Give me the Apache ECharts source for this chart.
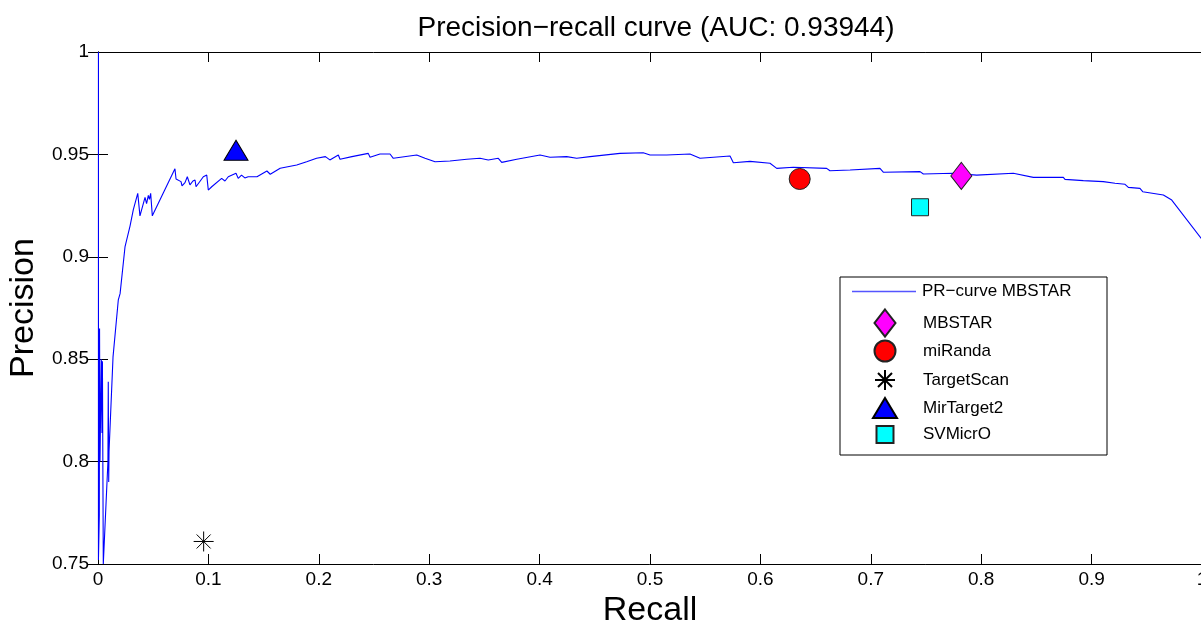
<!DOCTYPE html>
<html>
<head>
<meta charset="utf-8">
<script src="https://cdn.jsdelivr.net/npm/echarts@6/dist/echarts.min.js"></script>
<style>
  html, body { margin: 0; padding: 0; background: #fff; }
  #chart { width: 1201px; height: 621px; }
</style>
</head>
<body>
<div id="chart"></div>
<script>
// PR curve of MBSTAR
const recall = [
  0.0004, 0.0004, 0.0012, 0.0014, 0.0018, 0.0030, 0.0036, 0.0040, 0.0048, 0.0090,
  0.0093, 0.0097, 0.0100, 0.0136, 0.0184, 0.0200, 0.0245, 0.0290, 0.0320, 0.0360,
  0.0380, 0.0426, 0.0440, 0.0456, 0.0466, 0.0477, 0.0492, 0.0697, 0.0707, 0.0752,
  0.0761, 0.0788, 0.0809, 0.0833, 0.0860, 0.0879, 0.0888, 0.0954, 0.0985, 0.0999,
  0.1030, 0.1120, 0.1150, 0.1180, 0.1250, 0.1270, 0.1300, 0.1330, 0.1360, 0.1440,
  0.1530, 0.1560, 0.1650, 0.1800, 0.1890, 0.1980, 0.2060, 0.2100, 0.2177, 0.2192,
  0.2300, 0.2448, 0.2464, 0.2554, 0.2645, 0.2675, 0.2887, 0.2962, 0.3053, 0.3188,
  0.3340, 0.3460, 0.3535, 0.3626, 0.3657, 0.3793, 0.4004, 0.4094, 0.4245, 0.4336,
  0.4457, 0.4728, 0.4939, 0.5000, 0.5151, 0.5362, 0.5453, 0.5725, 0.5755, 0.5906,
  0.6087, 0.6148, 0.6298, 0.6600, 0.6630, 0.6812, 0.7083, 0.7113, 0.7446, 0.7476,
  0.7747, 0.7959, 0.8291, 0.8472, 0.8744, 0.8759, 0.8925, 0.9106, 0.9212, 0.9303,
  0.9333, 0.9438, 0.9463, 0.9650, 0.9726, 1.0000
];
const precision = [
  1.0000, 0.7520, 0.7740, 0.8650, 0.8000, 0.8500, 0.8140, 0.8490, 0.7500, 0.8000,
  0.8390, 0.7900, 0.8050, 0.8510, 0.8790, 0.8820, 0.9050, 0.9150, 0.9230, 0.9310,
  0.9200, 0.9290, 0.9260, 0.9300, 0.9280, 0.9310, 0.9200, 0.9430, 0.9380, 0.9367,
  0.9346, 0.9362, 0.9391, 0.9351, 0.9370, 0.9375, 0.9342, 0.9391, 0.9399, 0.9326,
  0.9342, 0.9383, 0.9370, 0.9391, 0.9408, 0.9383, 0.9399, 0.9385, 0.9391, 0.9391,
  0.9419, 0.9403, 0.9432, 0.9448, 0.9464, 0.9481, 0.9489, 0.9473, 0.9497, 0.9476,
  0.9489, 0.9505, 0.9486, 0.9502, 0.9502, 0.9481, 0.9497, 0.9481, 0.9464, 0.9468,
  0.9476, 0.9481, 0.9473, 0.9481, 0.9461, 0.9476, 0.9497, 0.9486, 0.9489, 0.9481,
  0.9489, 0.9505, 0.9508, 0.9497, 0.9497, 0.9502, 0.9481, 0.9492, 0.9459, 0.9466,
  0.9457, 0.9432, 0.9437, 0.9432, 0.9420, 0.9424, 0.9432, 0.9413, 0.9416, 0.9404,
  0.9408, 0.9399, 0.9408, 0.9388, 0.9388, 0.9378, 0.9372, 0.9367, 0.9359, 0.9354,
  0.9339, 0.9334, 0.9318, 0.9302, 0.9277, 0.9085
];

// other predictors, one point each: [recall, precision]
const tools = ['MBSTAR', 'miRanda', 'TargetScan', 'MirTarget2', 'SVMicrO'];
const toolPoints = [
  [0.782, 0.9395],
  [0.6356, 0.938],
  [0.0957, 0.761],
  [0.125, 0.952],
  [0.7446, 0.9242]
];
const curveName = 'PR\u2212curve MBSTAR';

const FONT = '"Liberation Sans", Arial, Helvetica, sans-serif';
const starPath = 'path://M0,-10L0,10M-10,0L10,0M-7,-7L7,7M-7,7L7,-7';

const markerStyles = {
  MBSTAR: { symbol: 'diamond', size: [21, 27], color: '#ff00ff', border: '#222' },
  miRanda: { symbol: 'circle', size: [21, 21], color: '#ff0000', border: '#222' },
  TargetScan: { symbol: starPath, size: [20, 20], color: 'rgba(0,0,0,0)', border: '#000' },
  MirTarget2: { symbol: 'triangle', size: [24, 20], color: '#0000ff', border: '#000' },
  SVMicrO: { symbol: 'rect', size: [17, 17], color: '#00ffff', border: '#222' }
};

const chart = echarts.init(document.getElementById('chart'), null, { renderer: 'canvas' });

const axisLine = { show: true, lineStyle: { color: '#000', width: 1 } };
const axisTick = { show: true, inside: true, length: 10, lineStyle: { color: '#000', width: 1 } };
const tickLabel = { color: '#000', fontSize: 19, fontFamily: FONT };

const xBase = { type: 'value', min: 0, max: 1, interval: 0.1, splitLine: { show: false }, axisLine, axisTick };
const yBase = { type: 'value', min: 0.75, max: 1, interval: 0.05, splitLine: { show: false }, axisLine, axisTick };

const series = [{
  name: curveName,
  type: 'line',
  data: recall.map((r, i) => [r, precision[i]]),
  symbol: 'none',
  showSymbol: false,
  lineStyle: { color: '#0000ff', width: 1.1 },
  itemStyle: { color: '#0000ff' },
  animation: false,
  z: 2
}];
tools.forEach(function (name, i) {
  const m = markerStyles[name];
  series.push({
    name,
    type: 'scatter',
    data: [toolPoints[i]],
    symbol: m.symbol,
    symbolSize: m.size,
    itemStyle: { color: m.color, borderColor: m.border, borderWidth: 1, opacity: 1 },
    animation: false,
    z: 3
  });
});

// one legend per row so each icon keeps its own size
const legendLeft = 840, legendTop = 277;
const rowCenters = [293, 322, 350, 379, 407, 435];
const legends = [{
  data: [{ name: curveName, icon: 'rect', itemStyle: { color: '#5555ff', borderWidth: 0 } }],
  left: 852, top: rowCenters[0] - 10,
  padding: 0, itemWidth: 64, itemHeight: 1.5,
  textStyle: { color: '#000', fontSize: 17, fontFamily: FONT, padding: [0, 0, 0, 1] },
  selectedMode: false
}];
tools.forEach(function (name, i) {
  const m = markerStyles[name];
  const w = m.size[0], h = m.size[1];
  const left = 884 - w / 2;
  legends.push({
    data: [{ name, icon: m.symbol }],
    left, top: rowCenters[i + 1] - Math.max(h, 20) / 2,
    padding: 0, itemWidth: w, itemHeight: h,
    textStyle: { color: '#000', fontSize: 17, fontFamily: FONT, padding: [0, 0, 0, 922 - (left + w + 5)] },
    selectedMode: false
  });
});

chart.setOption({
  backgroundColor: '#fff',
  animation: false,
  title: {
    text: 'Precision\u2212recall curve (AUC: 0.93944)',
    left: 651, top: 9, textAlign: 'center',
    textStyle: { color: '#000', fontSize: 28, fontWeight: 'normal', fontFamily: FONT }
  },
  grid: { left: 98, top: 52, width: 1104, height: 512, containLabel: false, outerBoundsMode: 'none' },
  xAxis: [
    Object.assign({}, xBase, {
      position: 'bottom',
      axisLabel: Object.assign({}, tickLabel, { margin: 6 }),
      name: 'Recall', nameLocation: 'middle', nameGap: 30,
      nameTextStyle: { color: '#000', fontSize: 34, fontFamily: FONT }
    }),
    Object.assign({}, xBase, { position: 'top', axisLabel: { show: false } })
  ],
  yAxis: [
    Object.assign({}, yBase, {
      position: 'left',
      axisLabel: Object.assign({}, tickLabel, { margin: 9 }),
      name: 'Precision', nameLocation: 'middle', nameGap: 56,
      nameTextStyle: { color: '#000', fontSize: 34, fontFamily: FONT }
    }),
    Object.assign({}, yBase, { position: 'right', axisLabel: { show: false } })
  ],
  legend: legends,
  graphic: [{
    type: 'rect',
    shape: { x: legendLeft, y: legendTop, width: 267, height: 178 },
    style: { fill: '#fff', stroke: '#000', lineWidth: 1 },
    z: 3
  }],
  series
});
</script>
</body>
</html>
